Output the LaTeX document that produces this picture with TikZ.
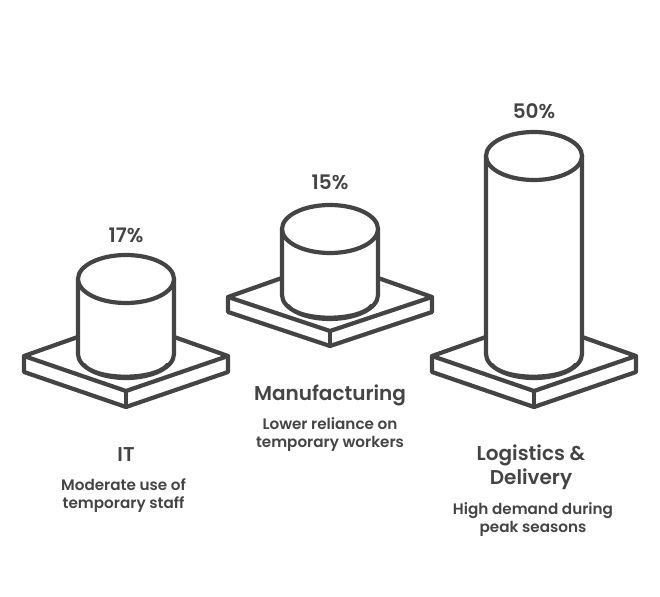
\documentclass[tikz,border=0pt]{standalone}
\usepackage{fontspec}
\setmainfont{Poppins}[UprightFont=* SemiBold]
\definecolor{ink}{HTML}{444444}
\tikzstyle{outline} = [draw=ink, line width=4.2pt, line join=round, line cap=round, fill=white]
\tikzstyle{rim} = [draw=ink, line width=2.5pt, line cap=round]
\tikzstyle{title} = [text=ink, align=center, font=\fontsize{20}{24}\selectfont]
\tikzstyle{note} = [text=ink, align=center, font=\fontsize{15.2}{18}\selectfont]

\begin{document}
\begin{tikzpicture}[x=1pt,y=-1pt]
\useasboundingbox (0,0) rectangle (660,596);
% IT
\draw [outline] (24,356) -- (126,320) -- (228,356) -- (228,372) -- (126,407) -- (24,372) -- cycle;
\draw [outline] (24,356) -- (126,391) -- (228,356);
\draw [outline] (126,391) -- (126,407);
\draw [outline] (78,279) -- (78,354) arc [start angle=180, end angle=360, x radius=48pt, y radius=24pt] -- (174,279);
\draw [rim] (84,364) arc [start angle=195, end angle=345, x radius=43pt, y radius=16pt];
\draw [outline] (126,279) ellipse [x radius=48pt, y radius=24pt];
\node [title] (itvalue) at (126,235) {17\%};
\node [title] (itname) at (126,455) {IT};
\node [note] (itnote) at (123.5,496) {Moderate use of\\temporary staff};
% Manufacturing
\draw [outline] (228,297) -- (330,261) -- (432,297) -- (432,312) -- (330,346) -- (228,312) -- cycle;
\draw [outline] (228,297) -- (330,331) -- (432,297);
\draw [outline] (330,331) -- (330,346);
\draw [outline] (282,229) -- (282,295) arc [start angle=180, end angle=360, x radius=48pt, y radius=24pt] -- (378,229);
\draw [rim] (288,305) arc [start angle=195, end angle=345, x radius=43pt, y radius=16pt];
\draw [outline] (330,229) ellipse [x radius=48pt, y radius=24pt];
\node [title] (mfvalue) at (330,182) {15\%};
\node [title] (mfname) at (330,395) {Manufacturing};
\node [note] (mfnote) at (330,435) {Lower reliance on\\temporary workers};
% Logistics & Delivery
\draw [outline] (432,356) -- (534,320) -- (636,356) -- (636,372) -- (534,407) -- (432,372) -- cycle;
\draw [outline] (432,356) -- (534,391) -- (636,356);
\draw [outline] (534,391) -- (534,407);
\draw [outline] (486,156) -- (486,354) arc [start angle=180, end angle=360, x radius=48pt, y radius=24pt] -- (582,156);
\draw [rim] (492,364) arc [start angle=195, end angle=345, x radius=43pt, y radius=16pt];
\draw [outline] (534,156) ellipse [x radius=48pt, y radius=24pt];
\node [title] (lgvalue) at (534,111) {50\%};
\node [title] (lgname) at (531,467) {Logistics \&\\Delivery};
\node [note] (lgnote) at (533,520) {High demand during\\peak seasons};
\end{tikzpicture}
\end{document}
